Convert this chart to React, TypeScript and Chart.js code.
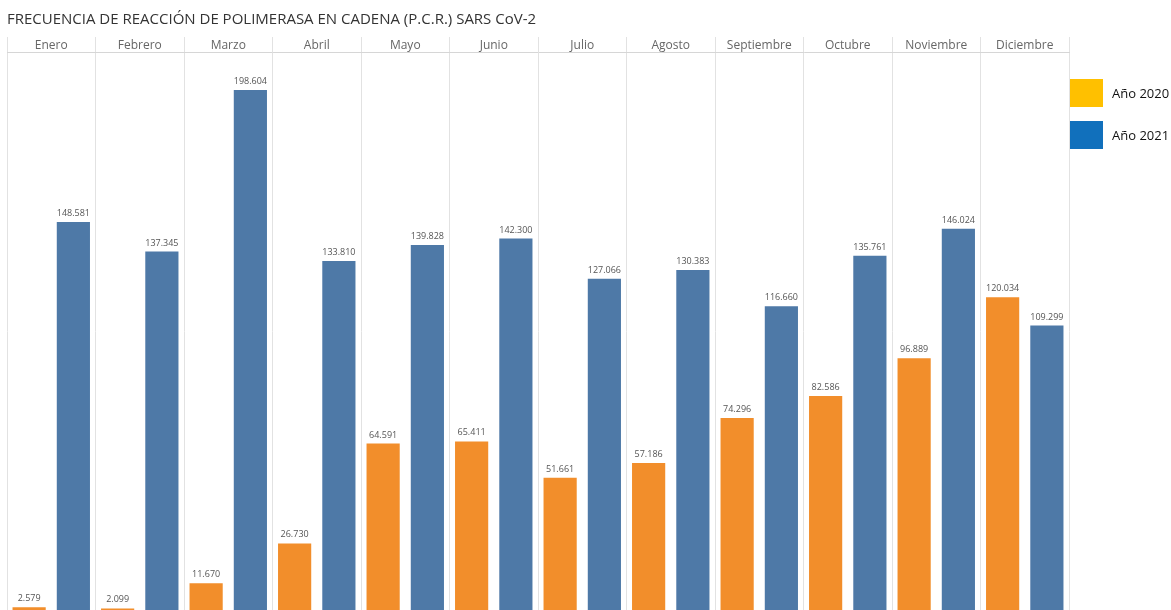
import React, { useEffect, useRef } from "react";
import { Chart, registerables } from "chart.js";

Chart.register(...registerables);

const months = [
  "Enero", "Febrero", "Marzo", "Abril", "Mayo", "Junio",
  "Julio", "Agosto", "Septiembre", "Octubre", "Noviembre", "Diciembre",
];
const pcr2020 = [2579, 2099, 11670, 26730, 64591, 65411, 51661, 57186, 74296, 82586, 96889, 120034];
const pcr2021 = [148581, 137345, 198604, 133810, 139828, 142300, 127066, 130383, 116660, 135761, 146024, 109299];
const seriesNames = ["Año 2020", "Año 2021"];
const barColors = ["#F28E2B", "#4E79A7"];
const legendColors = ["#FFC000", "#1170BC"];

const fmt = (v: number) => String(v).replace(/\B(?=(\d{3})+(?!\d))/g, ".");

const valueLabels = {
  id: "valueLabels",
  afterDatasetsDraw(chart: any) {
    const ctx = chart.ctx;
    ctx.save();
    ctx.font = "9px 'Open Sans'";
    ctx.fillStyle = "#555";
    ctx.textAlign = "center";
    ctx.textBaseline = "bottom";
    chart.data.datasets.forEach((ds: any, i: number) => {
      const meta = chart.getDatasetMeta(i);
      meta.data.forEach((bar: any, j: number) => {
        ctx.fillText(fmt(ds.data[j]), bar.x, bar.y - 4);
      });
    });
    ctx.restore();
  },
};

export default function App() {
  const ref = useRef<HTMLCanvasElement>(null);

  useEffect(() => {
    if (!ref.current) return;
    const chart = new Chart(ref.current, {
      type: "bar",
      data: {
        labels: months,
        datasets: [
          { label: seriesNames[0], data: pcr2020, backgroundColor: barColors[0] },
          { label: seriesNames[1], data: pcr2021, backgroundColor: barColors[1] },
        ],
      },
      options: {
        responsive: false,
        animation: false,
        layout: { padding: { left: 7, right: 102, top: 0, bottom: 0 } },
        datasets: { bar: { categoryPercentage: 1.0, barPercentage: 0.75 } },
        plugins: {
          legend: { display: false },
          tooltip: { enabled: false },
          title: {
            display: true,
            text: "FRECUENCIA DE REACCIÓN DE POLIMERASA EN CADENA (P.C.R.) SARS CoV-2",
            align: "start",
            color: "#333",
            font: { family: "'Open Sans'", size: 15, weight: "normal" },
            padding: { top: 11, bottom: 8 },
          },
        },
        scales: {
          x: {
            position: "top",
            grid: { color: "#e2e2e2", tickLength: 15, offset: true },
            border: { color: "#d6d6d6" },
            ticks: {
              color: "#666",
              padding: -15.5,
              font: { family: "'Open Sans'", size: 12 },
            },
            // month header band: 15px tall, labels sit between the separators
            afterFit: (axis: any) => {
              axis.height = 15;
            },
          },
          y: {
            display: false,
            min: 1500,
            max: 213000,
          },
        },
      },
      plugins: [valueLabels],
    });
    return () => chart.destroy();
  }, []);

  return (
    <div style={{ position: "absolute", left: 0, top: 0, width: 1171, height: 610, background: "#fff", overflow: "hidden" }}>
      <canvas ref={ref} width={1171} height={610} style={{ display: "block" }} />
      {seriesNames.map((name, i) => (
        <div
          key={name}
          style={{ position: "absolute", left: 1070, top: 79 + i * 42, display: "flex", alignItems: "center", fontFamily: "'Open Sans'", fontSize: 13, color: "#111" }}
        >
          <span style={{ display: "inline-block", width: 33, height: 28, background: legendColors[i], marginRight: 9 }} />
          {name}
        </div>
      ))}
    </div>
  );
}
